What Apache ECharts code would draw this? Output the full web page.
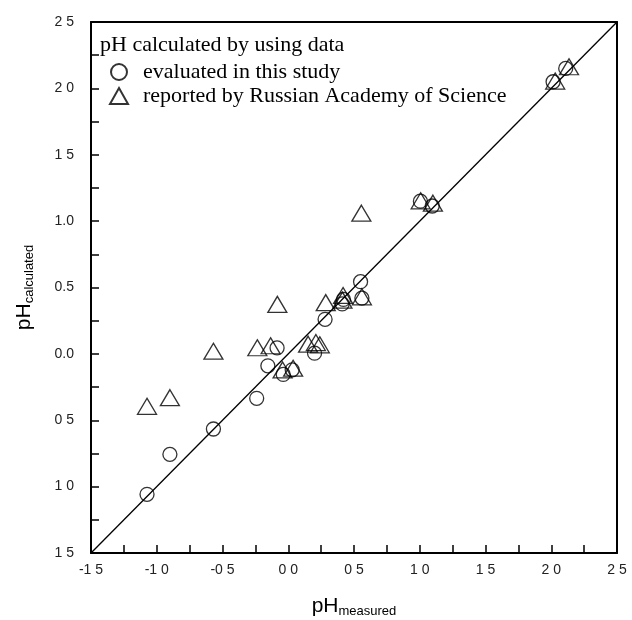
<!DOCTYPE html>
<html>
<head>
<meta charset="utf-8">
<script src="https://cdn.jsdelivr.net/npm/echarts@6/dist/echarts.min.js"></script>
<style>
  html, body { margin: 0; padding: 0; background: #fff; }
  #main { width: 632px; height: 620px; }
</style>
</head>
<body>
<div id="main"></div>
<script>
// tick labels as printed on the original figure
var xTickLabels = ['-1 5', '-1 0', '-0 5', '0 0', '0 5', '1 0', '1 5', '2 0', '2 5'];
var yTickLabels = ['1 5', '1 0', '0 5', '0.0', '0.5', '1.0', '1 5', '2 0', '2 5'];
var tickValues = [-1.5, -1.0, -0.5, 0.0, 0.5, 1.0, 1.5, 2.0, 2.5];

// pH calculated with data evaluated in this study
var studyData = [
    [-1.074, -1.058], [-0.90, -0.757], [-0.569, -0.566], [-0.24, -0.335],
    [-0.155, -0.09], [-0.085, 0.045], [-0.038, -0.155], [0.03, -0.12],
    [0.20, 0.005], [0.28, 0.26], [0.41, 0.376], [0.42, 0.41],
    [0.55, 0.544], [0.56, 0.42], [1.005, 1.15], [1.095, 1.114],
    [2.014, 2.05], [2.11, 2.15]
];

// pH calculated with data reported by Russian Academy of Science
var russianData = [
    [-1.074, -0.395], [-0.90, -0.33], [-0.569, 0.02], [-0.235, 0.046],
    [-0.134, 0.061], [-0.083, 0.373], [-0.043, -0.121], [0.037, -0.108],
    [0.151, 0.073], [0.21, 0.085], [0.24, 0.068], [0.285, 0.386],
    [0.417, 0.44], [0.412, 0.405], [0.56, 0.43], [0.556, 1.06],
    [1.007, 1.153], [1.10, 1.135], [2.03, 2.055], [2.135, 2.163]
];

// y = x reference line
var diagonal = [[-1.5, -1.5], [2.5, 2.5]];

function tickLabel(list) {
    return function (v) {
        for (var i = 0; i < tickValues.length; i++) {
            if (Math.abs(tickValues[i] - v) < 1e-6) return list[i];
        }
        return '';
    };
}

var myChart = echarts.init(document.getElementById('main'));

var labelStyle = {
    color: '#222',
    fontFamily: 'Liberation Sans',
    fontSize: 14
};

var nameRich = {
    m: {fontFamily: 'Liberation Sans', fontSize: 21, color: '#000'},
    s: {fontFamily: 'Liberation Sans', fontSize: 13, color: '#000', padding: [10, 0, 0, 0]}
};

var option = {
    animation: false,
    backgroundColor: '#fff',
    grid: {
        left: 91,
        right: 15,
        top: 22,
        bottom: 67,
        containLabel: false,
        outerBoundsMode: 'none'
    },
    graphic: [{
        type: 'text',
        left: 100,
        top: 34,
        style: {
            text: 'pH calculated by using data',
            fontFamily: 'Liberation Serif',
            fontSize: 22,
            fill: '#000'
        }
    }],
    legend: {
        left: 104,
        top: 56,
        orient: 'vertical',
        itemGap: 2,
        itemWidth: 18,
        itemHeight: 16,
        textStyle: {
            fontFamily: 'Liberation Serif',
            fontSize: 22,
            color: '#000',
            padding: [0, 0, 0, 10]
        },
        data: [
            {name: 'evaluated in this study', icon: 'circle'},
            {name: 'reported by Russian Academy of Science', icon: 'triangle'}
        ]
    },
    xAxis: [{
        type: 'value',
        min: -1.5,
        max: 2.5,
        interval: 0.5,
        name: '{m|pH}{s|measured}',
        nameLocation: 'middle',
        nameGap: 42,
        nameTextStyle: {rich: nameRich},
        axisLine: {onZero: false, lineStyle: {color: '#000', width: 2}},
        axisTick: {inside: true, length: 8, lineStyle: {color: '#000', width: 1.5}},
        minorTick: {show: true, splitNumber: 2, length: 8, lineStyle: {color: '#000', width: 1.5}},
        splitLine: {show: false},
        axisLabel: Object.assign({margin: 10, formatter: tickLabel(xTickLabels)}, labelStyle)
    }, {
        type: 'value',
        position: 'top',
        min: -1.5,
        max: 2.5,
        axisLine: {show: true, onZero: false, lineStyle: {color: '#000', width: 2}},
        axisTick: {show: false},
        axisLabel: {show: false},
        splitLine: {show: false}
    }],
    yAxis: [{
        type: 'value',
        min: -1.5,
        max: 2.5,
        interval: 0.5,
        name: '{m|pH}{s|calculated}',
        nameLocation: 'middle',
        nameGap: 55,
        nameTextStyle: {rich: nameRich},
        axisLine: {onZero: false, lineStyle: {color: '#000', width: 2}},
        axisTick: {inside: true, length: 8, lineStyle: {color: '#000', width: 1.5}},
        minorTick: {show: true, splitNumber: 2, length: 8, lineStyle: {color: '#000', width: 1.5}},
        splitLine: {show: false},
        axisLabel: Object.assign({margin: 17, formatter: tickLabel(yTickLabels)}, labelStyle)
    }, {
        type: 'value',
        position: 'right',
        min: -1.5,
        max: 2.5,
        axisLine: {show: true, onZero: false, lineStyle: {color: '#000', width: 2}},
        axisTick: {show: false},
        axisLabel: {show: false},
        splitLine: {show: false}
    }],
    series: [{
        name: 'diagonal',
        type: 'line',
        data: diagonal,
        showSymbol: false,
        symbol: 'none',
        silent: true,
        lineStyle: {color: '#000', width: 1.3}
    }, {
        name: 'evaluated in this study',
        type: 'scatter',
        symbol: 'circle',
        symbolSize: 14,
        data: studyData,
        itemStyle: {
            color: 'rgba(255,255,255,0)',
            borderColor: '#000',
            borderWidth: 1.3
        }
    }, {
        name: 'reported by Russian Academy of Science',
        type: 'scatter',
        symbol: 'triangle',
        symbolSize: [19, 16],
        data: russianData,
        itemStyle: {
            color: 'rgba(255,255,255,0)',
            borderColor: '#000',
            borderWidth: 1.3
        }
    }]
};

myChart.setOption(option);
</script>
</body>
</html>
